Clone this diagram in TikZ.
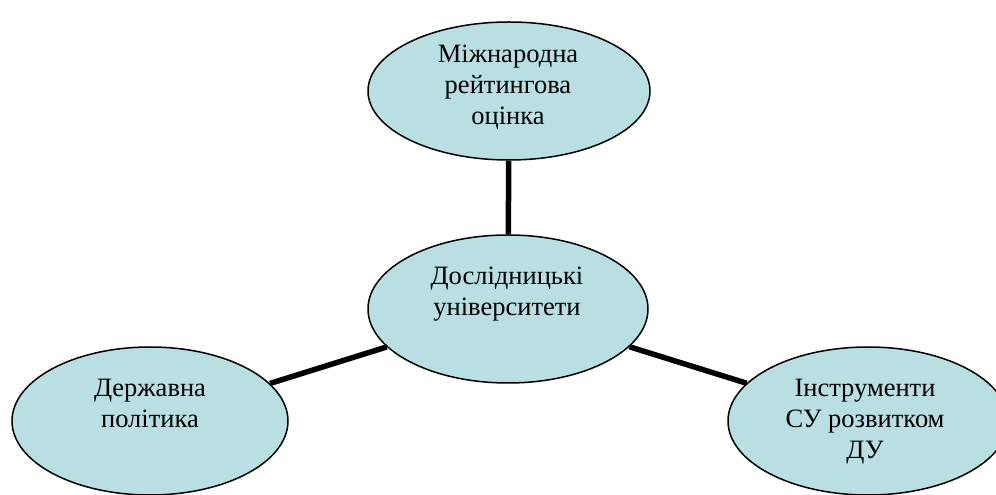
\documentclass[tikz,border=0pt]{standalone}
\usepackage{fontspec}
\setmainfont{Liberation Serif}
\usetikzlibrary{shapes.geometric}
\definecolor{ovalfill}{RGB}{185,223,227}
\tikzset{
  oval/.style={ellipse, draw=black, line width=1.5pt, fill=ovalfill, inner sep=0pt},
  ovaltext/.style={align=center, font=\fontsize{26.5}{31}\selectfont, inner sep=0pt},
  link/.style={line width=5.5pt, draw=black}
}
\begin{document}
\begin{tikzpicture}[x=1pt,y=1pt]
\useasboundingbox (0,0) rectangle (996,495);
\node[oval, minimum width=282pt, minimum height=138pt] (top) at (509,404) {};
\node[oval, minimum width=280pt, minimum height=148pt] (mid) at (508,186) {};
\node[oval, minimum width=276pt, minimum height=148pt] (left) at (150,74) {};
\node[oval, minimum width=280pt, minimum height=148pt] (right) at (868,74) {};
\draw[link] (top) -- (mid);
\draw[link] (left) -- (mid);
\draw[link] (right) -- (mid);
\node[ovaltext] (ttop) at (508,408) {Міжнародна\\рейтингова\\оцінка};
\node[ovaltext] (tmid) at (507,201) {Дослідницькі\\університети};
\node[ovaltext] (tleft) at (150,92) {Державна\\політика};
\node[ovaltext] (tright) at (865,73) {Інструменти\\СУ розвитком\\ДУ};
\end{tikzpicture}
\end{document}
